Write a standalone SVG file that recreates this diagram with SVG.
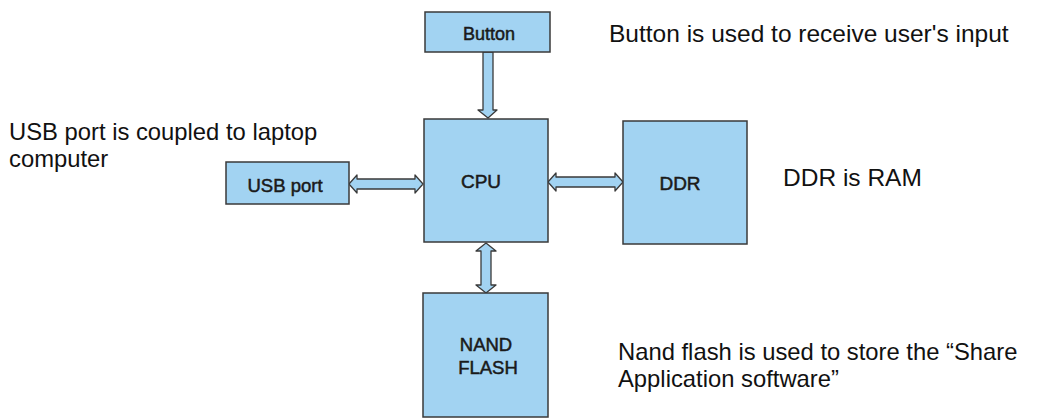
<svg xmlns="http://www.w3.org/2000/svg" width="1043" height="418" viewBox="0 0 1043 418">
<style>
.box{fill:#a2d3f2;stroke:#3a3a3a;stroke-width:1.5}
.arr{fill:#a2d3f2;stroke:#3a3a3a;stroke-width:1.3;stroke-linejoin:round}
.lbl{font-family:"Liberation Sans",Arial,sans-serif;font-size:18.5px;fill:#1a1a1a;stroke:#1a1a1a;stroke-width:0.5;text-anchor:middle}
.note{font-family:"Liberation Sans",Arial,sans-serif;font-size:24.5px;fill:#111}
.note2{font-family:"Liberation Sans",Arial,sans-serif;font-size:23.8px;fill:#111}
</style>
<rect width="1043" height="418" fill="#fff"/>
<g id="connectors">
<polygon class="arr" points="483,52 493,52 493,110 497,110 488,118 478,110 483,110"/>
<polygon class="arr" points="349,184 357,175 357,179 415,179 415,175 423,184 415,193 415,189 357,189 357,193"/>
<polygon class="arr" points="548,182 556,173 556,177 615,177 615,173 623,182 615,191 615,187 556,187 556,191"/>
<polygon class="arr" points="486,243 496,251 491,251 491,285 496,285 486,293 476,285 481,285 481,251 476,251"/>
</g>
<g id="button"><rect class="box" x="425" y="12" width="125" height="40"/><text class="lbl" x="489" y="40" style="font-size:18px">Button</text></g>
<g id="usb"><rect class="box" x="226" y="162" width="123" height="42"/><text class="lbl" x="285" y="192">USB port</text></g>
<g id="cpu"><rect class="box" x="424" y="119" width="124" height="123"/><text class="lbl" x="481" y="188" style="font-size:19px">CPU</text></g>
<g id="ddr"><rect class="box" x="623" y="121" width="124" height="123"/><text class="lbl" x="680" y="190" style="font-size:19px">DDR</text></g>
<g id="nand"><rect class="box" x="423" y="293" width="125" height="124"/><text class="lbl"><tspan x="486" y="351">NAND</tspan><tspan x="488" y="374">FLASH</tspan></text></g>
<g id="notes">
<text class="note" x="609" y="42">Button is used to receive user's input</text>
<text class="note2"><tspan x="9" y="140">USB port is coupled to laptop</tspan><tspan x="9" y="167">computer</tspan></text>
<text class="note" x="783" y="186">DDR is RAM</text>
<text class="note2"><tspan x="618" y="360">Nand flash is used to store the “Share</tspan><tspan x="618" y="387">Application software”</tspan></text>
</g>
</svg>
